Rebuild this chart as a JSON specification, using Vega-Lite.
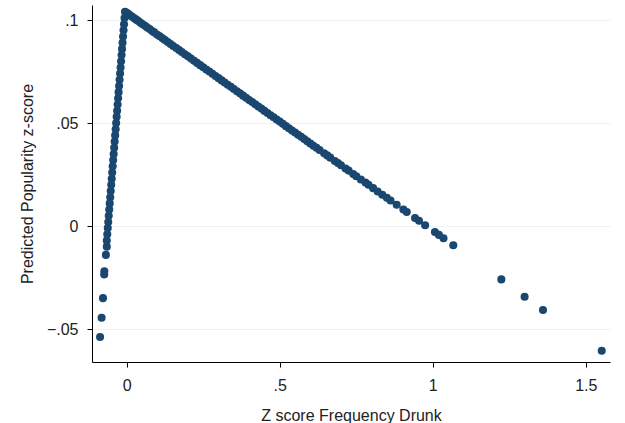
{
  "$schema": "https://vega.github.io/schema/vega-lite/v6.json",
  "width": 518,
  "height": 357,
  "autosize": {"type": "none"},
  "padding": {"left": 92, "top": 5, "right": 15, "bottom": 61},
  "background": "white",
  "config": {
    "view": {"stroke": null},
    "font": "Liberation Sans"
  },
  "data": {
    "values": [
      {"x": -0.0055, "y": 0.104}, {"x": -0.0072, "y": 0.101}, {"x": -0.0088, "y": 0.098},
      {"x": -0.0104, "y": 0.095}, {"x": -0.012, "y": 0.092}, {"x": -0.0136, "y": 0.089},
      {"x": -0.0152, "y": 0.086}, {"x": -0.0168, "y": 0.083}, {"x": -0.0184, "y": 0.08},
      {"x": -0.02, "y": 0.077}, {"x": -0.0217, "y": 0.074}, {"x": -0.0233, "y": 0.071},
      {"x": -0.0249, "y": 0.068}, {"x": -0.0265, "y": 0.065}, {"x": -0.0281, "y": 0.062},
      {"x": -0.0297, "y": 0.059}, {"x": -0.0313, "y": 0.056}, {"x": -0.0329, "y": 0.053},
      {"x": -0.0345, "y": 0.05}, {"x": -0.0361, "y": 0.047}, {"x": -0.0378, "y": 0.044},
      {"x": -0.0394, "y": 0.041}, {"x": -0.041, "y": 0.038}, {"x": -0.0426, "y": 0.035},
      {"x": -0.0442, "y": 0.032}, {"x": -0.0458, "y": 0.029}, {"x": -0.0474, "y": 0.026},
      {"x": -0.049, "y": 0.023}, {"x": -0.0506, "y": 0.02}, {"x": -0.0523, "y": 0.017},
      {"x": -0.0539, "y": 0.014}, {"x": -0.0555, "y": 0.011}, {"x": -0.0571, "y": 0.008},
      {"x": -0.0587, "y": 0.005}, {"x": -0.0603, "y": 0.002}, {"x": -0.0619, "y": -0.001},
      {"x": -0.0635, "y": -0.004}, {"x": -0.0651, "y": -0.007},
      {"x": -0.065, "y": -0.01}, {"x": -0.068, "y": -0.014}, {"x": -0.073, "y": -0.022},
      {"x": -0.0735, "y": -0.0235}, {"x": -0.0775, "y": -0.035}, {"x": -0.082, "y": -0.0445},
      {"x": -0.087, "y": -0.0539},
      {"x": 0, "y": 0.1035}, {"x": 0.005, "y": 0.103}, {"x": 0.012, "y": 0.1022},
      {"x": 0.018, "y": 0.1016}, {"x": 0.025, "y": 0.1009}, {"x": 0.031, "y": 0.1002},
      {"x": 0.038, "y": 0.0995}, {"x": 0.045, "y": 0.0987}, {"x": 0.052, "y": 0.098},
      {"x": 0.06, "y": 0.0972}, {"x": 0.067, "y": 0.0964}, {"x": 0.075, "y": 0.0956},
      {"x": 0.083, "y": 0.0947}, {"x": 0.09, "y": 0.094}, {"x": 0.1, "y": 0.0929},
      {"x": 0.108, "y": 0.0921}, {"x": 0.117, "y": 0.0911}, {"x": 0.125, "y": 0.0903},
      {"x": 0.134, "y": 0.0893}, {"x": 0.143, "y": 0.0884}, {"x": 0.152, "y": 0.0874},
      {"x": 0.162, "y": 0.0864}, {"x": 0.171, "y": 0.0854}, {"x": 0.18, "y": 0.0845},
      {"x": 0.19, "y": 0.0834}, {"x": 0.2, "y": 0.0824}, {"x": 0.21, "y": 0.0813},
      {"x": 0.22, "y": 0.0802}, {"x": 0.23, "y": 0.0792}, {"x": 0.24, "y": 0.0781},
      {"x": 0.25, "y": 0.0771}, {"x": 0.26, "y": 0.076}, {"x": 0.27, "y": 0.075},
      {"x": 0.28, "y": 0.0739}, {"x": 0.29, "y": 0.0728}, {"x": 0.3, "y": 0.0718},
      {"x": 0.31, "y": 0.0707}, {"x": 0.32, "y": 0.0697}, {"x": 0.33, "y": 0.0686},
      {"x": 0.34, "y": 0.0676}, {"x": 0.35, "y": 0.0665}, {"x": 0.36, "y": 0.0654},
      {"x": 0.37, "y": 0.0644}, {"x": 0.38, "y": 0.0633}, {"x": 0.39, "y": 0.0623},
      {"x": 0.4, "y": 0.0612}, {"x": 0.41, "y": 0.0602}, {"x": 0.42, "y": 0.0591},
      {"x": 0.43, "y": 0.058}, {"x": 0.44, "y": 0.057}, {"x": 0.45, "y": 0.0559},
      {"x": 0.46, "y": 0.0549}, {"x": 0.47, "y": 0.0538}, {"x": 0.48, "y": 0.0528},
      {"x": 0.49, "y": 0.0517}, {"x": 0.5, "y": 0.0507}, {"x": 0.51, "y": 0.0496},
      {"x": 0.52, "y": 0.0485}, {"x": 0.53, "y": 0.0475}, {"x": 0.54, "y": 0.0464},
      {"x": 0.55, "y": 0.0454}, {"x": 0.56, "y": 0.0443}, {"x": 0.57, "y": 0.0433},
      {"x": 0.58, "y": 0.0422}, {"x": 0.59, "y": 0.0411}, {"x": 0.6, "y": 0.0401},
      {"x": 0.61, "y": 0.039}, {"x": 0.62, "y": 0.038}, {"x": 0.63, "y": 0.0369},
      {"x": 0.645, "y": 0.0353}, {"x": 0.655, "y": 0.0343}, {"x": 0.665, "y": 0.0332},
      {"x": 0.68, "y": 0.0316}, {"x": 0.69, "y": 0.0306}, {"x": 0.7, "y": 0.0295},
      {"x": 0.715, "y": 0.0279}, {"x": 0.725, "y": 0.0269}, {"x": 0.74, "y": 0.0253},
      {"x": 0.75, "y": 0.0242}, {"x": 0.765, "y": 0.0226}, {"x": 0.78, "y": 0.0211},
      {"x": 0.79, "y": 0.02}, {"x": 0.805, "y": 0.0184}, {"x": 0.82, "y": 0.0168},
      {"x": 0.835, "y": 0.0152}, {"x": 0.85, "y": 0.0137}, {"x": 0.862, "y": 0.0124},
      {"x": 0.882, "y": 0.0103}, {"x": 0.904, "y": 0.008}, {"x": 0.915, "y": 0.0068},
      {"x": 0.942, "y": 0.0039}, {"x": 0.955, "y": 0.0026}, {"x": 0.975, "y": 0.0004},
      {"x": 1.007, "y": -0.0029}, {"x": 1.02, "y": -0.0043}, {"x": 1.035, "y": -0.0059},
      {"x": 1.067, "y": -0.0093},
      {"x": 1.224, "y": -0.0259}, {"x": 1.3, "y": -0.0343}, {"x": 1.36, "y": -0.0408},
      {"x": 1.552, "y": -0.0605}
    ]
  },
  "mark": {"type": "point", "filled": true, "size": 65, "color": "#1a476f", "opacity": 1},
  "encoding": {
    "x": {
      "field": "x",
      "type": "quantitative",
      "scale": {"domain": [-0.1134, 1.579], "nice": false, "zero": false},
      "axis": {
        "title": "Z score Frequency Drunk",
        "values": [0, 0.5, 1, 1.5],
        "labelExpr": "datum.value == 0 ? '0' : replace(replace(format(datum.value, '.2~f'), '0.', '.'), '-', '–')",
        "grid": false,
        "domainColor": "#000000",
        "tickColor": "#000000",
        "tickSize": 5,
        "labelPadding": 10,
        "labelFontSize": 16,
        "labelColor": "#222222",
        "titleFontSize": 16,
        "titleFontWeight": "normal",
        "titleColor": "#222222",
        "titlePadding": 14
      }
    },
    "y": {
      "field": "y",
      "type": "quantitative",
      "scale": {"domain": [-0.066, 0.1073], "nice": false, "zero": false},
      "axis": {
        "title": "Predicted Popularity z-score",
        "values": [-0.05, 0, 0.05, 0.1],
        "labelExpr": "datum.value == 0 ? '0' : replace(replace(format(datum.value, '.2~f'), '0.', '.'), '-', '–')",
        "grid": true,
        "gridColor": "#eaf2f3",
        "gridWidth": 1,
        "domainColor": "#000000",
        "tickColor": "#000000",
        "tickSize": 5,
        "labelPadding": 9,
        "labelFontSize": 16,
        "labelColor": "#222222",
        "titleFontSize": 16,
        "titleFontWeight": "normal",
        "titleColor": "#222222",
        "titlePadding": 11
      }
    }
  }
}
